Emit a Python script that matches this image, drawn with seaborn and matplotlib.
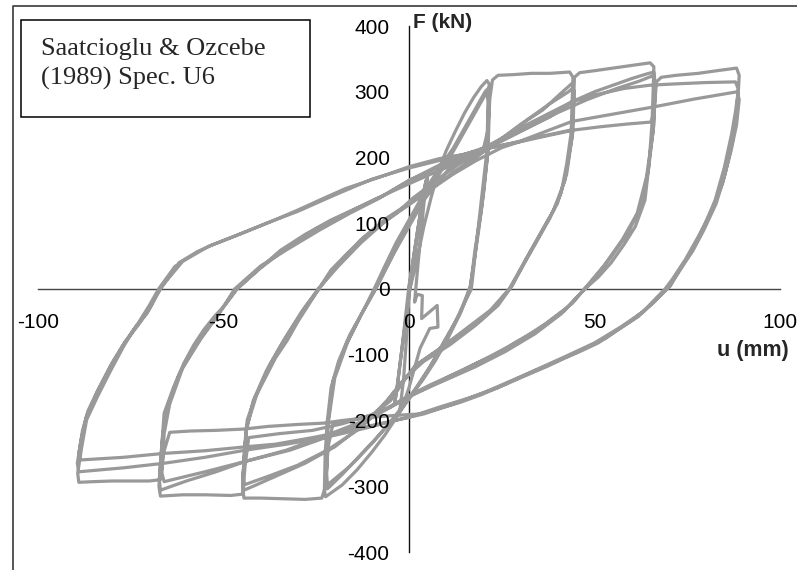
import numpy as np
import pandas as pd
import matplotlib
matplotlib.use("Agg")
import matplotlib.pyplot as plt
from matplotlib.lines import Line2D
from matplotlib.patches import Rectangle
import seaborn as sns

# Cyclic lateral load test, displacement u (mm) vs lateral force F (kN),
# recorded as one continuous path, grouped by displacement level.
path_small = [
    (0, 0), (1.0, 40), (2.2, 85), (3.5, 130), (4.6, 165), (4.0, 150), (2.5, 95),
    (1.0, 40), (0.0, 5), (-1.0, -45), (-2.0, -95), (-3.0, -140), (-3.8, -172),
    (-3.2, -150), (-2.0, -95), (-0.8, -45), (0.5, 10), (1.8, 60), (3.0, 110),
    (4.2, 150), (5.0, 170), (4.2, 140), (2.8, 60), (1.5, -20), (2.2, -8),
    (3.6, -10), (3.4, -45), (7.6, -25), (7.8, -58), (5.6, -60), (3.0, -90),
    (1.5, -120), (0.0, -150), (-1.2, -170), (-2.5, -185), (-1.5, -140),
    (-0.5, -60), (0.0, -5),
]

path_22 = [
    (0, -5), (2, 40), (4, 95), (6, 140), (8, 180), (10, 210), (12.5, 240),
    (15, 268), (17.5, 292), (19.5, 308), (21, 317), (21.6, 312), (21.4, 270),
    (21.2, 205), (20.2, 150), (18.8, 90), (17.5, 40), (16.4, 0), (14, -35),
    (10.5, -75), (7, -110), (3.5, -140), (0, -165), (-3, -192), (-6.5, -222),
    (-10, -248), (-14, -275), (-18, -298), (-22.5, -316), (-22.8, -305),
    (-22.6, -250), (-22, -200), (-21, -150), (-19, -110), (-16, -70),
    (-12.5, -35), (-9.4, 0), (-6.5, 35), (-3.5, 70), (0, 105), (3, 135),
    (6, 165), (9, 190), (12, 215), (15, 245), (18, 275), (20.5, 300),
    (21.5, 306), (21.7, 280), (21.3, 210), (19.5, 120), (17.8, 60), (16.6, 5),
    (13.5, -40), (9, -85), (5, -125), (1, -160), (-3, -190), (-8, -222),
    (-13, -252), (-18, -282), (-22, -304), (-22.3, -290), (-22, -210),
    (-20.5, -140), (-17, -85), (-13, -40), (-9, 0), (-5, 45), (-1, 90),
    (3, 130), (7, 165), (11, 200), (15, 240), (18.5, 275), (21, 300),
    (21.3, 285), (21, 210), (19, 110), (16.8, 0), (12, -55), (6, -115),
    (1, -158), (-4, -195), (-10, -235), (-16, -270), (-22, -298),
    (-22.2, -280), (-21.8, -205), (-20, -135), (-16.5, -80), (-12.5, -35),
    (-9, 0), (-4, 55), (0, 95), (4, 135), (8, 165), (12, 190), (16, 205),
    (20, 212),
]

path_44 = [
    (21.2, 240), (21.8, 290), (22.5, 318), (24, 325), (28, 326), (33, 328),
    (38, 328), (43.3, 330), (44.2, 322), (44, 290), (43.7, 237), (42.5, 190),
    (41, 146), (38, 108), (34.7, 75), (31, 38), (27.5, 3), (24, -21),
    (19.5, -47), (15, -65), (10.4, -82), (6, -100), (1.5, -118), (-2, -145),
    (-5, -170), (-10, -192), (-16, -200), (-20.5, -205), (-21.8, -240),
    (-22.5, -300), (-23.5, -318), (-28, -320), (-34, -319), (-40, -318),
    (-44.5, -318), (-44.8, -300), (-44.4, -250), (-43.6, -199), (-41.5, -165),
    (-39, -138), (-36, -105), (-32.8, -78), (-30, -50), (-27.4, -27),
    (-24, 3), (-21, 29), (-16.5, 55), (-12, 79), (-7.5, 98), (-3, 117),
    (1, 138), (5, 155), (9, 172), (13, 188), (18, 205), (24, 225), (30, 250),
    (36, 272), (41, 298), (44, 313), (44.5, 300), (44.2, 240), (42.5, 175),
    (40, 130), (36, 90), (31.5, 45), (27.8, 5), (24, -25), (18, -55),
    (11, -85), (4, -110), (-1, -135), (-6, -170), (-12, -205), (-20, -240),
    (-28, -265), (-36, -285), (-42, -300), (-44.5, -306), (-44.8, -290),
    (-44, -220), (-42, -170), (-38.5, -125), (-34, -80), (-29, -35),
    (-24.5, 0), (-19, 35), (-13, 70), (-6, 105), (0, 128), (6, 152),
    (12, 178), (18, 200), (25, 228), (32, 258), (38, 282), (43, 300),
    (44, 305), (44.4, 290), (43.9, 230), (42, 165), (39, 120), (35, 80),
    (31, 40), (27, 0), (22, -32), (15, -62), (8, -92), (2, -115), (-3, -150),
    (-8, -185), (-14, -215), (-22, -245), (-30, -268), (-38, -285),
    (-44.5, -298), (-44.7, -280), (-43.8, -210), (-41, -160), (-37.5, -115),
    (-33, -72), (-28, -28), (-24, 2), (-20, 32), (-13, 75), (-6, 108),
    (0, 130), (6, 152), (12, 175), (18, 195), (25, 215), (32, 228),
]

path_66 = [
    (38, 235), (43.8, 242), (44.3, 280), (44.6, 322), (46, 329), (50, 332),
    (55, 336), (60, 340), (65, 344), (66, 338), (65.8, 300), (65.5, 252),
    (64.7, 190), (63.6, 135), (61, 95), (58, 68), (54.5, 40), (51, 18),
    (47.4, 0), (42, -32), (34.7, -62), (29, -80), (24, -98), (17, -116),
    (10.4, -134), (5, -150), (0, -164), (-5, -180), (-11, -193), (-18, -205),
    (-26, -215), (-35, -220), (-43.2, -226), (-44.2, -270), (-44.8, -312),
    (-48, -314), (-55, -313), (-61, -313), (-67, -315), (-67.4, -300),
    (-66.8, -250), (-66, -189), (-63.5, -150), (-60.7, -113), (-58, -85),
    (-55.3, -62), (-52.5, -42), (-50, -27), (-46.3, 0), (-40.5, 30),
    (-34.6, 59), (-28, 83), (-21, 105), (-14, 123), (-7.6, 140), (0, 165),
    (7, 183), (15, 200), (22, 220), (30, 245), (37, 265), (44, 285),
    (50, 300), (55, 310), (60, 320), (64, 327), (66, 330), (66.4, 310),
    (66, 250), (64.5, 180), (62.5, 125), (59, 85), (54, 45), (49, 10),
    (46.5, -5), (41, -38), (34, -68), (26, -95), (18, -118), (10, -138),
    (2, -158), (-4, -175), (-12, -200), (-22, -222), (-33, -245),
    (-44, -262), (-52, -278), (-60, -292), (-67, -306), (-67.3, -290),
    (-66.5, -230), (-65.5, -185), (-62, -130), (-57.5, -85), (-53, -50),
    (-49, -20), (-46.5, 0), (-40, 32), (-33, 62), (-25, 92), (-17, 115),
    (-9, 137), (0, 160), (8, 180), (16, 198), (24, 222), (32, 245),
    (40, 268), (48, 288), (56, 305), (62, 316), (66, 325), (66.3, 300),
    (65.8, 240), (64, 170), (61.5, 115), (57.5, 75), (52.5, 35), (48, 5),
    (44, -22), (37, -52), (30, -78), (22, -102), (14, -125), (6, -145),
    (0, -162), (-6, -183), (-13, -205), (-22, -225), (-32, -245),
    (-44, -262), (-55, -278), (-66, -293), (-66.6, -280), (-66, -220),
    (-64.5, -175), (-61, -120), (-56, -75), (-51.5, -40), (-47, 0),
    (-40, 35), (-32, 63), (-24, 90), (-16, 115), (-8, 138), (0, 165),
    (8, 188), (15, 205), (22, 215),
]

path_88 = [
    (30, 224), (38, 234), (44.7, 242), (52, 247), (59, 251), (65.4, 254),
    (66.2, 280), (66.7, 315), (68, 322), (72, 325), (78, 328), (83, 332),
    (88.3, 336), (89, 325), (88.8, 303), (88, 270), (87, 237), (85, 185),
    (82.5, 135), (79.5, 95), (76, 55), (73, 28), (70, 3), (66, -20),
    (61.8, -42), (56, -63), (51, -82), (46.5, -94), (42, -105), (37.5, -117),
    (33, -128), (26, -145), (19.4, -161), (14, -172), (8.6, -181), (3, -190),
    (-3, -192), (-10, -195), (-18, -200), (-23, -204), (-30, -206),
    (-38, -209), (-44.5, -213), (-52, -215), (-59, -216), (-64.5, -218),
    (-66.2, -250), (-67, -290), (-70, -292), (-75, -292), (-80, -292),
    (-85, -293), (-89, -294), (-89.3, -280), (-88.2, -240), (-86.9, -199),
    (-84, -164), (-80.5, -125), (-77, -88), (-74, -60), (-70.6, -37),
    (-67, 0), (-62, 40), (-57, 57), (-53, 67), (-48, 78), (-44, 87),
    (-37, 103), (-30, 120), (-23, 138), (-17, 153), (-8, 170), (0, 186),
    (8, 198), (15, 205), (22, 218), (30, 240), (38, 262), (44, 285),
    (50, 295), (58, 305), (65, 310), (72, 312), (80, 314), (88, 315),
    (88.7, 305), (88.3, 265), (87.2, 225), (85.2, 175), (82.8, 130),
    (79.5, 90), (76.5, 58), (73, 30), (70.5, 5), (65, -25), (60, -48),
    (53, -75), (45, -97), (37, -117), (29, -136), (20, -158), (12, -175),
    (4, -190), (-3, -199), (-12, -212), (-22, -225), (-33, -236),
    (-44, -245), (-55, -256), (-66, -265), (-77, -272), (-85, -276),
    (-89, -278), (-89.4, -265), (-88.4, -230), (-87, -195), (-84.2, -158),
    (-80.5, -118), (-76.8, -83), (-73, -55), (-70, -30), (-68, -8),
    (-66.5, 5), (-61, 42), (-54, 65), (-45, 85), (-38, 101), (-30, 118),
    (-20, 143), (-10, 167), (0, 184), (10, 198), (20, 212), (30, 225),
    (44, 255), (55, 266), (66, 277), (77, 289), (88.5, 300), (89, 288),
    (88.3, 250), (86.8, 210), (84.5, 160), (81.5, 118), (78, 80),
    (74.5, 45), (71, 15), (69, 0), (63, -35), (57, -58), (50, -82),
    (42, -103), (33, -126), (24, -150), (16, -166), (8, -180), (0, -195),
    (-8, -205), (-16, -215), (-26, -226), (-36, -236), (-44, -240),
    (-55, -246), (-66, -250), (-77, -256), (-88.5, -260), (-89, -250),
    (-88, -215), (-86.5, -185), (-83.5, -150), (-80, -112), (-76.5, -80),
    (-73, -52), (-70, -25), (-67.5, 0), (-63, 35),
]

x_ticks = [-100, -50, 0, 50, 100]
y_ticks = [-400, -300, -200, -100, 0, 100, 200, 300, 400]
title_lines = ["Saatcioglu & Ozcebe", "(1989) Spec. U6"]

pts = path_small + path_22 + path_44 + path_66 + path_88
df = pd.DataFrame(pts, columns=["u", "F"])
df["step"] = np.arange(len(df))

sns.set_style("white")
plt.rcParams["font.family"] = ["Liberation Sans", "DejaVu Sans"]
plt.rcParams["axes.unicode_minus"] = False

W, H = 797, 570
fig = plt.figure(figsize=(W / 100, H / 100), dpi=100)
fig.patch.set_facecolor("white")

# plot area: u = -100 .. 100 across, F = -400 .. 400 down
x0, x1, ytop, ybot = 38, 780, 26, 552
ax = fig.add_axes([x0 / W, 1 - ybot / H, (x1 - x0) / W, (ybot - ytop) / H])

sns.lineplot(data=df, x="u", y="F", sort=False, estimator=None,
             color="#999999", linewidth=2.3, ax=ax, zorder=2.7)
for ln in ax.lines:
    ln.set_solid_joinstyle("round")
    ln.set_solid_capstyle("round")

ax.set_xlim(-100, 100)
ax.set_ylim(-400, 400)
ax.set_xlabel("")
ax.set_ylabel("")
ax.set_xticks(x_ticks)
ax.set_yticks(y_ticks)
ax.set_xticklabels([str(v) for v in x_ticks])
ax.set_yticklabels([str(v) for v in y_ticks])

# axes crossing at the origin
for side in ("top", "right"):
    ax.spines[side].set_visible(False)
ax.spines["left"].set_position(("data", 0))
ax.spines["bottom"].set_position(("data", 0))
ax.spines["left"].set_color("#111111")
ax.spines["bottom"].set_color("#444444")
ax.spines["left"].set_linewidth(1.0)
ax.spines["bottom"].set_linewidth(1.0)
ax.spines["left"].set_zorder(2.5)
ax.spines["bottom"].set_zorder(2.5)
ax.tick_params(axis="x", direction="out", length=5, width=1.0, color="#444444",
               labelsize=15, pad=12, labelcolor="black")
ax.tick_params(axis="y", direction="out", length=5, width=1.0, color="#111111",
               labelsize=15, pad=9, labelcolor="black")
ax.xaxis.set_zorder(3)
ax.yaxis.set_zorder(3)
ax.patch.set_alpha(0)

# axis titles
fig.text(413 / W, 1 - 28 / H, "F (kN)", fontsize=15, fontweight="bold",
         ha="left", va="baseline")
fig.text(789 / W, 1 - 356 / H, "u (mm)", fontsize=15.5, fontweight="bold",
         ha="right", va="baseline")

# specimen label box
fig.add_artist(Rectangle((21 / W, 1 - 116.5 / H), 289 / W, 96.5 / H,
                         transform=fig.transFigure, fill=False,
                         edgecolor="black", linewidth=1.1))
fig.text(41 / W, 1 - 55 / H, title_lines[0], fontsize=19,
         family=["Liberation Serif", "DejaVu Serif"], ha="left", va="baseline")
fig.text(41 / W, 1 - 85 / H, title_lines[1], fontsize=19,
         family=["Liberation Serif", "DejaVu Serif"], ha="left", va="baseline")

# chart area frame (top and left edges)
fig.add_artist(Line2D([12.5 / W, 12.5 / W, 1.0], [0.0, 1 - 5.5 / H, 1 - 5.5 / H],
                      transform=fig.transFigure, color="#3a3a3a", linewidth=1.2))

fig.savefig("out.png", dpi=100, facecolor="white")
